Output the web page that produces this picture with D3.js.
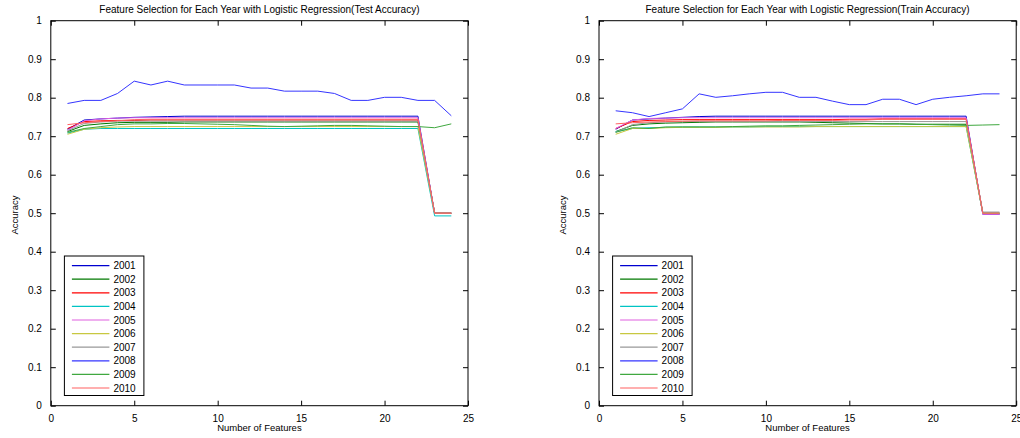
<!DOCTYPE html>
<html>
<head>
<meta charset="utf-8">
<script src="https://cdn.jsdelivr.net/npm/d3@7"></script>
<style>
  body{margin:0;background:#fff;}
  svg{display:block;font-family:"Liberation Sans",Arial,sans-serif;}
</style>
</head>
<body>
<svg id="chart" width="1020" height="438"></svg>
<script>
/* ---------- data ---------- */
const years=["2001","2002","2003","2004","2005","2006","2007","2008","2009","2010"];
const features=[1,2,3,4,5,6,7,8,9,10,11,12,13,14,15,16,17,18,19,20,21,22,23,24];
const xTicks=[0,5,10,15,20,25];
const yTicks=[0,0.1,0.2,0.3,0.4,0.5,0.6,0.7,0.8,0.9,1];
const colors=["#0000d0","#007800","#ff0000","#00c4c4","#e060e0","#c8c840","#999999","#3535ff","#40a840","#ff6060"];

// test accuracy, one row per year
const testAcc=[
  [0.718,0.742,0.745,0.747,0.749,0.750,0.751,0.752,0.752,0.752,0.752,0.752,0.752,0.752,0.752,0.752,0.752,0.752,0.752,0.752,0.752,0.752,0.500,0.500],
  [0.712,0.728,0.732,0.735,0.736,0.736,0.736,0.737,0.737,0.737,0.737,0.737,0.737,0.737,0.737,0.737,0.737,0.737,0.737,0.737,0.737,0.737,0.500,0.500],
  [0.720,0.738,0.740,0.741,0.741,0.742,0.742,0.742,0.742,0.742,0.742,0.742,0.742,0.742,0.742,0.742,0.742,0.742,0.742,0.742,0.742,0.742,0.500,0.500],
  [0.708,0.718,0.720,0.720,0.720,0.720,0.720,0.720,0.720,0.720,0.720,0.720,0.720,0.720,0.720,0.720,0.720,0.720,0.720,0.720,0.720,0.720,0.493,0.493],
  [0.715,0.740,0.745,0.747,0.748,0.748,0.748,0.748,0.748,0.748,0.748,0.748,0.748,0.748,0.748,0.748,0.748,0.748,0.748,0.748,0.748,0.748,0.500,0.500],
  [0.705,0.718,0.722,0.724,0.725,0.725,0.725,0.725,0.725,0.725,0.725,0.725,0.725,0.725,0.725,0.725,0.725,0.725,0.725,0.725,0.725,0.725,0.500,0.500],
  [0.714,0.733,0.737,0.739,0.739,0.739,0.739,0.739,0.739,0.739,0.739,0.739,0.739,0.739,0.739,0.739,0.739,0.739,0.739,0.739,0.739,0.739,0.500,0.500],
  [0.785,0.793,0.793,0.811,0.843,0.833,0.843,0.833,0.833,0.833,0.833,0.825,0.825,0.817,0.817,0.817,0.811,0.793,0.793,0.801,0.801,0.793,0.793,0.753],
  [0.710,0.720,0.725,0.730,0.732,0.732,0.733,0.733,0.732,0.731,0.730,0.728,0.726,0.725,0.726,0.727,0.728,0.728,0.727,0.726,0.725,0.725,0.722,0.732],
  [0.730,0.735,0.738,0.740,0.743,0.744,0.744,0.744,0.744,0.744,0.744,0.744,0.744,0.744,0.744,0.744,0.744,0.744,0.744,0.744,0.744,0.744,0.500,0.500]
];

// train accuracy, one row per year
const trainAcc=[
  [0.718,0.742,0.745,0.747,0.749,0.751,0.752,0.752,0.752,0.752,0.752,0.752,0.752,0.752,0.752,0.752,0.752,0.752,0.752,0.752,0.752,0.752,0.497,0.497],
  [0.712,0.728,0.732,0.734,0.735,0.736,0.737,0.737,0.737,0.737,0.737,0.737,0.736,0.735,0.734,0.733,0.732,0.732,0.731,0.731,0.731,0.731,0.500,0.500],
  [0.720,0.738,0.741,0.742,0.743,0.743,0.743,0.743,0.743,0.743,0.743,0.743,0.743,0.743,0.744,0.744,0.745,0.745,0.745,0.745,0.745,0.745,0.500,0.500],
  [0.712,0.720,0.722,0.723,0.724,0.724,0.724,0.724,0.724,0.725,0.725,0.725,0.725,0.725,0.725,0.725,0.725,0.725,0.725,0.725,0.725,0.725,0.500,0.500],
  [0.720,0.742,0.746,0.747,0.748,0.748,0.748,0.748,0.748,0.748,0.748,0.748,0.748,0.748,0.748,0.748,0.748,0.748,0.748,0.748,0.748,0.748,0.497,0.497],
  [0.705,0.720,0.720,0.722,0.723,0.723,0.723,0.724,0.724,0.724,0.724,0.724,0.725,0.725,0.725,0.725,0.725,0.725,0.725,0.725,0.725,0.725,0.500,0.500],
  [0.710,0.730,0.735,0.737,0.738,0.738,0.738,0.738,0.738,0.738,0.738,0.738,0.738,0.738,0.738,0.738,0.738,0.738,0.738,0.738,0.738,0.738,0.503,0.503],
  [0.766,0.761,0.751,0.761,0.771,0.810,0.801,0.805,0.810,0.814,0.814,0.801,0.801,0.791,0.782,0.782,0.796,0.796,0.782,0.796,0.801,0.805,0.810,0.810],
  [0.710,0.722,0.720,0.724,0.724,0.724,0.724,0.725,0.726,0.727,0.727,0.728,0.729,0.730,0.731,0.732,0.732,0.732,0.731,0.730,0.729,0.728,0.729,0.730],
  [0.732,0.735,0.737,0.738,0.739,0.740,0.740,0.740,0.740,0.740,0.741,0.741,0.741,0.741,0.742,0.742,0.744,0.744,0.744,0.744,0.744,0.744,0.500,0.500]
];

/* ---------- layout ---------- */
const svg=d3.select("#chart");
const TOP=20.7,BOTTOM=405.7,PW=417.2;

function drawPanel(left,title,rows){
  const x=d3.scaleLinear().domain([0,25]).range([left,left+PW]);
  const y=d3.scaleLinear().domain([0,1]).range([BOTTOM,TOP]);
  const g=svg.append("g");

  // lines first, box over them
  const line=d3.line().x((d,i)=>x(features[i])).y(d=>y(d));
  g.selectAll("path.ser").data(rows).join("path").attr("class","ser")
    .attr("d",line).attr("fill","none")
    .attr("stroke",(d,i)=>colors[i]).attr("stroke-width",1);

  // axes: ticks inward on all four sides
  const tk=5;
  g.append("g").attr("transform",`translate(0,${BOTTOM})`)
    .call(d3.axisBottom(x).tickValues(xTicks).tickSizeInner(-tk).tickSizeOuter(0).tickPadding(9))
    .call(a=>{a.select(".domain").remove();a.selectAll("text").attr("font-size",10).attr("fill","#000");});
  g.append("g").attr("transform",`translate(0,${TOP})`)
    .call(d3.axisTop(x).tickValues(xTicks).tickSizeInner(-tk).tickSizeOuter(0).tickFormat(""))
    .call(a=>a.select(".domain").remove());
  g.append("g").attr("transform",`translate(${left},0)`)
    .call(d3.axisLeft(y).tickValues(yTicks).tickSizeInner(-tk).tickSizeOuter(0).tickPadding(9).tickFormat(d3.format("")))
    .call(a=>{a.select(".domain").remove();a.selectAll("text").attr("font-size",10).attr("fill","#000");});
  g.append("g").attr("transform",`translate(${left+PW},0)`)
    .call(d3.axisRight(y).tickValues(yTicks).tickSizeInner(-tk).tickSizeOuter(0).tickFormat(""))
    .call(a=>a.select(".domain").remove());
  g.selectAll(".tick line").attr("stroke","#000");

  g.append("rect").attr("x",left).attr("y",TOP).attr("width",PW).attr("height",BOTTOM-TOP)
    .attr("fill","none").attr("stroke","#000").attr("stroke-width",1);

  g.append("text").attr("x",left+PW/2).attr("y",13).attr("text-anchor","middle")
    .attr("font-size",10).text(title);
  g.append("text").attr("x",left+PW/2).attr("y",431).attr("text-anchor","middle")
    .attr("font-size",9.5).text("Number of Features");
  g.append("text").attr("transform",`translate(${left-33},215) rotate(-90)`)
    .attr("text-anchor","middle").attr("font-size",9.5).text("Accuracy");

  // legend
  const lx=left+13.6,ly=256,step=13.6;
  const lg=g.append("g");
  lg.append("rect").attr("x",lx).attr("y",ly).attr("width",79.5).attr("height",139.5)
    .attr("fill","#fff").attr("stroke","#000");
  const it=lg.selectAll("g.it").data(years).join("g").attr("class","it")
    .attr("transform",(d,i)=>`translate(${lx},${ly+9.6+i*step})`);
  it.append("line").attr("x1",7.5).attr("x2",45).attr("stroke",(d,i)=>colors[i]).attr("stroke-width",1.2);
  it.append("text").attr("x",49).attr("y",3.6).attr("font-size",10).text(d=>d);
}

drawPanel(50.8,"Feature Selection for Each Year with Logistic Regression(Test Accuracy)",testAcc);
drawPanel(599,"Feature Selection for Each Year with Logistic Regression(Train Accuracy)",trainAcc);
</script>
</body>
</html>
